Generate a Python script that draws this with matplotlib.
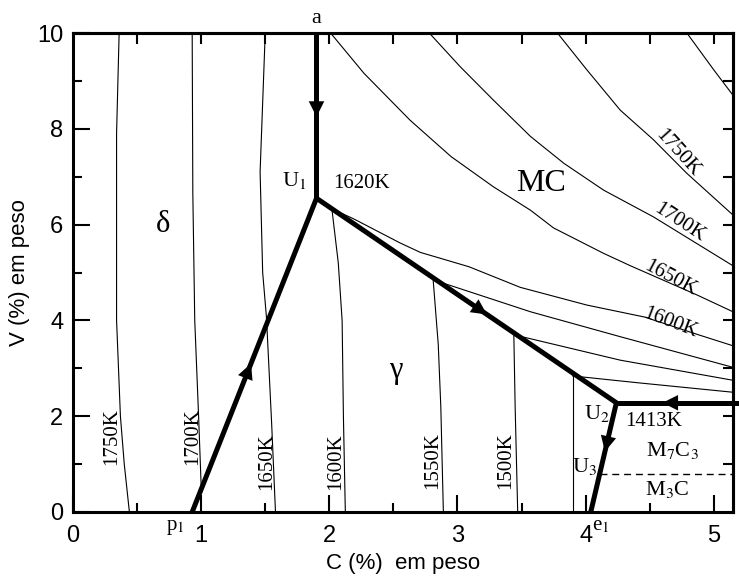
import matplotlib
matplotlib.use("Agg")
import matplotlib.pyplot as plt
import numpy as np

plt.rcParams['mathtext.fontset'] = 'stix'
SERIF = 'Liberation Serif'
SANS = 'Liberation Sans'

# ---------------- data (C wt%, V wt%) ----------------
# invariant / special points
pt_a = (1.90, 10.0)
pt_U1 = (1.90, 6.55)
pt_p1 = (0.93, 0.0)
pt_U2 = (4.24, 2.28)
pt_e1 = (4.04, 0.0)
pt_U3_y = 0.80
right_end_x = 5.15

# delta-region isotherms
iso_1750_d_x = [0.36, 0.34, 0.34, 0.37, 0.40, 0.44]
iso_1750_d_y = [10.0, 7.9, 4.0, 2.0, 1.0, 0.0]
iso_1700_d_x = [0.93, 0.935, 0.95, 0.98, 1.00]
iso_1700_d_y = [10.0, 6.65, 4.0, 2.0, 0.55]
iso_1650_d_x = [1.50, 1.46, 1.48, 1.51]
iso_1650_d_y = [10.0, 7.1, 5.0, 4.05]

# gamma-region isotherms
iso_1650_g_x = [1.51, 1.55, 1.58]
iso_1650_g_y = [4.05, 1.85, 0.0]
iso_1600_g_x = [2.02, 2.07, 2.10, 2.11, 2.125]
iso_1600_g_y = [6.33, 5.2, 4.0, 2.0, 0.0]
iso_1550_g_x = [2.81, 2.85, 2.87, 2.89]
iso_1550_g_y = [4.86, 3.5, 2.2, 0.0]
iso_1500_g_x = [3.44, 3.45, 3.47]
iso_1500_g_y = [3.68, 2.2, 0.0]
iso_1450_g_x = [3.90, 3.90]
iso_1450_g_y = [2.84, 0.0]

# MC-region isotherms
iso_1800_mc_x = [4.79, 5.00, 5.15]
iso_1800_mc_y = [10.0, 9.23, 8.70]
iso_1750_mc_x = [3.78, 4.01, 4.27, 4.53, 4.79, 5.15]
iso_1750_mc_y = [10.0, 9.23, 8.39, 7.77, 7.07, 6.20]
iso_1700_mc_x = [2.78, 3.02, 3.28, 3.57, 3.83, 4.14, 4.53, 5.15]
iso_1700_mc_y = [10.0, 9.30, 8.60, 7.84, 7.28, 6.72, 6.16, 5.14]
iso_1650_mc_x = [2.01, 2.27, 2.63, 2.95, 3.28, 3.57, 3.75, 4.14, 4.35, 4.87, 5.15]
iso_1650_mc_y = [10.0, 9.16, 8.18, 7.42, 6.79, 6.30, 5.93, 5.40, 5.14, 4.53, 4.18]
iso_1600_mc_x = [2.02, 2.19, 2.55, 2.71, 3.09, 3.49, 4.01, 4.46, 4.88, 5.15]
iso_1600_mc_y = [6.33, 6.12, 5.62, 5.42, 5.12, 4.69, 4.32, 4.07, 3.70, 3.47]
iso_1550_mc_x = [2.83, 3.57, 4.27, 5.15]
iso_1550_mc_y = [4.83, 4.18, 3.66, 3.02]
iso_1500_mc_x = [3.44, 4.27, 5.15]
iso_1500_mc_y = [3.70, 3.17, 2.75]
iso_1450_mc_x = [3.90, 4.40, 5.15]
iso_1450_mc_y = [2.84, 2.70, 2.50]

x_ticks = [0, 1, 2, 3, 4, 5]
y_ticks = [0, 2, 4, 6, 8, 10]

# ---------------- figure ----------------
fig = plt.figure(figsize=(7.39, 5.81), dpi=100)
ax = fig.add_axes([73/739, 1-512/581, (733-73)/739, (512-33)/581])
ax.set_xlim(0, right_end_x)
ax.set_ylim(0, 10)

thin = dict(color='black', lw=0.8)
for xs, ys in [(iso_1750_d_x, iso_1750_d_y), (iso_1700_d_x, iso_1700_d_y),
               (iso_1650_d_x, iso_1650_d_y), (iso_1650_g_x, iso_1650_g_y),
               (iso_1600_g_x, iso_1600_g_y), (iso_1550_g_x, iso_1550_g_y),
               (iso_1500_g_x, iso_1500_g_y), (iso_1450_g_x, iso_1450_g_y),
               (iso_1800_mc_x, iso_1800_mc_y), (iso_1750_mc_x, iso_1750_mc_y),
               (iso_1700_mc_x, iso_1700_mc_y), (iso_1650_mc_x, iso_1650_mc_y),
               (iso_1600_mc_x, iso_1600_mc_y), (iso_1550_mc_x, iso_1550_mc_y),
               (iso_1500_mc_x, iso_1500_mc_y), (iso_1450_mc_x, iso_1450_mc_y)]:
    ax.plot(xs, ys, **thin)

# U3 location on U2-e1 line
u3_x = pt_e1[0] + (pt_U2[0]-pt_e1[0]) * pt_U3_y / pt_U2[1]
ax.plot([u3_x, right_end_x], [pt_U3_y, pt_U3_y], color='black', lw=1.0,
        linestyle=(0, (5, 3.5)))

# thick monovariant lines
thick = dict(color='black', lw=3.6, solid_capstyle='butt', solid_joinstyle='miter', zorder=5)
ax.plot([pt_a[0], pt_U1[0]], [pt_a[1], pt_U1[1]], **thick)
ax.plot([pt_p1[0], pt_U1[0], pt_U2[0], pt_e1[0]], [pt_p1[1], pt_U1[1], pt_U2[1], pt_e1[1]], **thick)
ax.plot([pt_U2[0], right_end_x + 0.05], [pt_U2[1], pt_U2[1]], clip_on=False, **thick)

def arrow_on(p_from, p_to, frac, length=0.06):
    x0, y0 = p_from
    x1, y1 = p_to
    tx = x0 + (x1 - x0) * frac
    ty = y0 + (y1 - y0) * frac
    d = np.hypot((x1-x0)/5.15, (y1-y0)/10)
    bx = tx - (x1 - x0) / d * length * 0.5
    by = ty - (y1 - y0) / d * length * 0.5
    ax.annotate('', xy=(tx, ty), xytext=(bx, by),
                arrowprops=dict(arrowstyle='-|>,head_length=0.8,head_width=0.4',
                                mutation_scale=14, color='black', lw=0, shrinkA=0, shrinkB=0),
                zorder=6)

arrow_on(pt_a, pt_U1, (10-8.25)/(10-6.55))
arrow_on(pt_p1, pt_U1, 3.10/6.55)
arrow_on(pt_U1, pt_U2, (3.23-1.90)/(4.24-1.90))
arrow_on(pt_U2, pt_e1, (2.28-1.26)/2.28)
arrow_on((right_end_x, pt_U2[1]), pt_U2, (right_end_x-4.60)/(right_end_x-4.24))

# ---------------- labels ----------------
sf = dict(family=SERIF, color='black')
ax.text(1.90, 10.1, 'a', ha='center', va='bottom', fontsize=16, clip_on=False, **sf)
ax.text(1.73, 6.93, r'U$_1$', ha='center', va='center', fontsize=16, **sf)
ax.text(2.25, 6.85, '1620K', ha='center', va='center', fontsize=15, **sf)
ax.text(3.65, 6.85, 'MC', ha='center', va='center', fontsize=23, **sf)
ax.text(0.70, 6.0, 'δ', ha='center', va='center', fontsize=22, **sf)
ax.text(2.52, 2.96, 'γ', ha='center', va='center', fontsize=22, **sf)
ax.text(4.09, 2.06, r'U$_2$', ha='center', va='center', fontsize=16, **sf)
ax.text(3.99, 0.95, r'U$_3$', ha='center', va='center', fontsize=16, **sf)
ax.text(4.53, 1.89, '1413K', ha='center', va='center', fontsize=15, **sf)
ax.text(4.68, 1.29, r'M$_7$C$_3$', ha='center', va='center', fontsize=16, **sf)
ax.text(4.64, 0.46, r'M$_3$C', ha='center', va='center', fontsize=16, **sf)
ax.text(0.80, -0.12, r'p$_1$', ha='center', va='top', fontsize=15, clip_on=False, **sf)
ax.text(4.12, -0.08, r'e$_1$', ha='center', va='top', fontsize=15, clip_on=False, **sf)

# isotherm labels (gamma / delta, vertical)
for x, y, s in [(0.30, 1.57, '1750K'), (0.93, 1.57, '1700K'), (1.51, 1.06, '1650K'),
                (2.05, 1.06, '1600K'), (2.81, 1.08, '1550K'), (3.38, 1.08, '1500K')]:
    ax.text(x, y, s, rotation=90, ha='center', va='center', fontsize=15, **sf)

# isotherm labels (MC, inclined)
for x, y, s, r in [(4.72, 7.49, '1750K', -48), (4.73, 6.03, '1700K', -33),
                   (4.66, 4.88, '1650K', -28), (4.66, 3.94, '1600K', -21)]:
    ax.text(x, y, s, rotation=r, ha='center', va='center', fontsize=15,
            rotation_mode='anchor', **sf)

# ---------------- axes styling ----------------
for sp in ax.spines.values():
    sp.set_linewidth(2.2)
ax.set_xticks(x_ticks)
ax.set_yticks(y_ticks)
ax.set_xticks(np.arange(0.5, 5.2, 1.0), minor=True)
ax.set_yticks(np.arange(1, 10, 2), minor=True)
ax.tick_params(which='major', direction='in', length=12, width=1.5, top=False, right=False)
ax.tick_params(which='minor', direction='in', length=6.5, width=1.5, top=False, right=False)
ax.tick_params(axis='x', which='major', pad=9, labelsize=17)
ax.tick_params(axis='y', which='major', pad=7, labelsize=17)
for lab in ax.get_xticklabels() + ax.get_yticklabels():
    lab.set_family(SANS)

secx = ax.secondary_xaxis('top')
secx.set_xticks(np.arange(0.5, 5.2, 0.5))
secx.tick_params(direction='in', length=8, width=1.5, labeltop=False)
secx.spines['top'].set_linewidth(2.2)
secy = ax.secondary_yaxis('right')
secy.set_yticks(np.arange(1, 10, 1))
secy.tick_params(direction='in', length=7, width=1.5, labelright=False)
secy.spines['right'].set_linewidth(2.2)

ax.set_xlabel('C (%)  em peso', fontsize=16, family=SANS, labelpad=5)
ax.set_ylabel('V (%) em peso', fontsize=16, family=SANS, labelpad=5)

fig.savefig('out.png', dpi=100)
